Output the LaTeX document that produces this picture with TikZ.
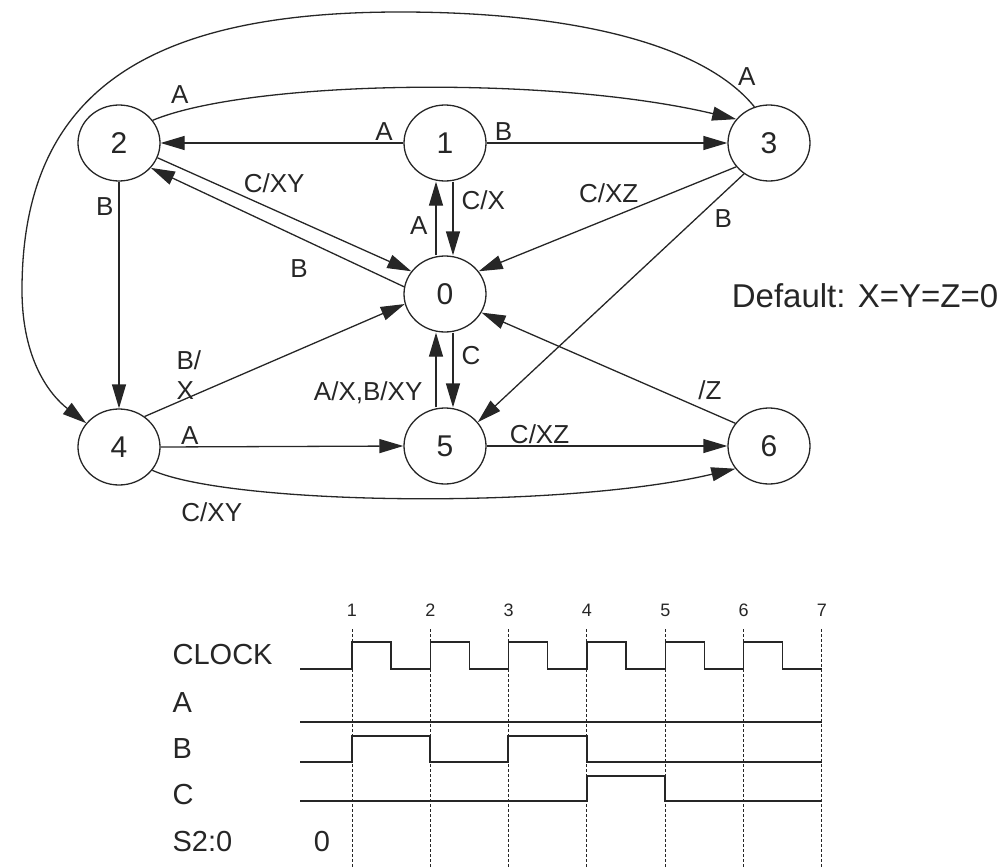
\documentclass[tikz,border=0pt]{standalone}
\usepackage{fontspec}
\setmainfont{Liberation Sans}
\usetikzlibrary{arrows.meta,shapes.geometric}

\begin{document}
\begin{tikzpicture}[x=1pt, y=-1pt, line width=1.3pt, color=black!85,
    >={Triangle[length=24pt,width=14pt]}]
    % Node styles
    \tikzstyle{state node}=[ellipse,draw,inner sep=0pt,minimum width=82pt,minimum height=76pt,font=\fontsize{30}{36}\selectfont]
    \tikzstyle{edge label}=[inner sep=2pt,font=\fontsize{26}{30}\selectfont]
    \tikzstyle{trace label}=[anchor=west,inner sep=0pt,font=\fontsize{29}{34}\selectfont]

    \useasboundingbox (0,0) rectangle (1004,867);

    % --- States ---
    \node[state node] (s_0) at (445,294) {0};
    \node[state node] (s_1) at (445,143) {1};
    \node[state node] (s_2) at (119,143) {2};
    \node[state node] (s_3) at (769,143) {3};
    \node[state node] (s_4) at (119,447) {4};
    \node[state node] (s_5) at (445,446) {5};
    \node[state node] (s_6) at (769,446) {6};

    \node[font=\fontsize{33}{40}\selectfont] (dflt) at (865,296) {Default: X=Y=Z=0};

    % --- Transitions, top row ---
    \draw[->] (s_1.west) -- node[edge label, pos=0.08, above] {A} (s_2.east);
    \draw[->] (s_1.east) -- node[edge label, pos=0.07, above] {B} (s_3.west);
    \draw[->] (s_2.34) .. controls (250,80) and (550,75) .. node[edge label, pos=0.08, above=5pt] {A} (s_3.144);
    \draw[->] (s_3.112) .. controls (700,40) and (560,12) .. node[edge label, pos=0.1, above right] {A} (400,12)
        .. controls (150,12) and (22,90) .. (22,290)
        .. controls (22,360) and (50,395) .. (s_4.144);

    % 2 <-> 0
    \draw[->] (s_2.-21) -- node[edge label, pos=0.33, above right] {C/XY} (s_0.146);
    \draw[->] (s_0.170) -- node[edge label, pos=0.37, anchor=north east, yshift=-14pt] {B} (s_2.-38);

    % 0 <-> 1
    \draw[->] ([xshift=-9pt]s_0.north) -- node[edge label, pos=0.4, left=6pt] {A} ([xshift=-9pt]s_1.south);
    \draw[->] ([xshift=8pt]s_1.south) -- node[edge label, pos=0.25, right=6pt] {C/X} ([xshift=8pt]s_0.north);

    % from 3
    \draw[->] (s_3.216) -- node[edge label, pos=0.37, above left] {C/XZ} (s_0.34);
    \draw[->] (s_3.231) -- node[edge label, pos=0.18, right=16pt] {B} (s_5.36);

    % --- Transitions, left and bottom ---
    \draw[->] (s_2.south) -- node[edge label, pos=0.11, left=3pt] {B} (s_4.north);
    \draw[->] (s_4.50) -- node[edge label, pos=0.17, yshift=22pt, align=left] {B/\\X} (s_0.194);
    \draw[->] (s_4.east) -- node[edge label, pos=0.12, above] {A} (s_5.west);
    \draw[->] (s_5.east) -- node[edge label, pos=0.22, above] {C/XZ} (s_6.west);
    \draw[->] (s_4.-35) .. controls (230,505) and (560,510) .. node[edge label, pos=0.17, below=15pt] {C/XY} (s_6.-146);
    \draw[->] (s_6.146) -- node[edge label, pos=0.1, above=10pt] {/Z} (s_0.-27);

    % 0 <-> 5
    \draw[->] ([xshift=8pt]s_0.south) -- node[edge label, pos=0.3, right=6pt] {C} ([xshift=8pt]s_5.north);
    \draw[->] ([xshift=-9pt]s_5.north) -- node[edge label, pos=0.2, left=11pt] {A/X,B/XY} ([xshift=-9pt]s_0.south);

    % --- Timing diagram ---
    \foreach \i in {1,...,7} {
        \draw[line width=1pt, dash pattern=on 3pt off 2pt] ({352+78.33*(\i-1)},629) -- ({352+78.33*(\i-1)},867);
        \node[font=\fontsize{18}{22}\selectfont] (tick_\i) at ({352+78.33*(\i-1)},610) {\i};
    }

    \node[trace label] (lbl_clk) at (172,655) {CLOCK};
    \node[trace label] (lbl_a) at (172,703) {A};
    \node[trace label] (lbl_b) at (172,749) {B};
    \node[trace label] (lbl_c) at (172,795) {C};
    \node[trace label] (lbl_s) at (172,842) {S2:0};
    \node[trace label, anchor=center] (s_init) at (322,842) {0};

    % Waveforms
    \draw (300,669) \foreach \i in {0,...,5} { -- ({352+78.33*\i},669) -- ({352+78.33*\i},642) -- ({391+78.33*\i},642) -- ({391+78.33*\i},669) } -- (822,669);
    \draw (300,722) -- (822,722);
    \draw (300,762) -- (352,762) -- (352,736) -- (430,736) -- (430,762) -- (508,762) -- (508,736) -- (587,736) -- (587,762) -- (822,762);
    \draw (300,801) -- (587,801) -- (587,776) -- (665,776) -- (665,801) -- (822,801);

\end{tikzpicture}
\end{document}
